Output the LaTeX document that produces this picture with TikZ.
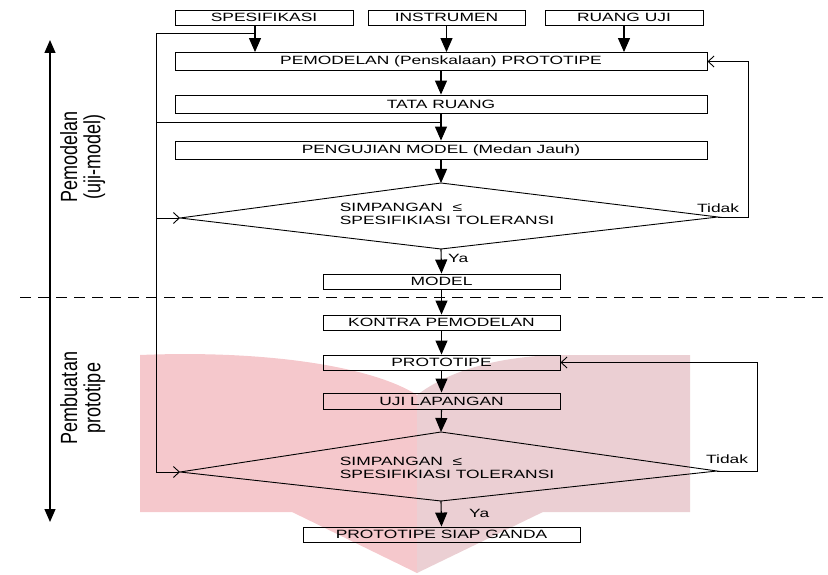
\documentclass[tikz,border=0pt]{standalone}
\usepackage{fontspec}
\setmainfont{Liberation Sans}
\usetikzlibrary{arrows.meta}
\newcommand\hs[1]{\scalebox{1.45}[1]{#1}}
\definecolor{pinkL}{RGB}{245,200,204}
\definecolor{pinkR}{RGB}{235,207,211}
\begin{document}
\begin{tikzpicture}[x=1pt,y=-1pt,
  bx/.style={draw, line width=0.9pt, inner sep=0pt, font=\fontsize{12}{13.5}\selectfont},
  txt/.style={inner sep=0pt, font=\fontsize{12}{13.5}\selectfont},
  flow/.style={line width=1.1pt, -{Triangle[length=14pt,width=12pt]}},
  ret/.style={line width=0.9pt, -{Straight Barb[length=6pt,width=11pt]}},
  ln/.style={line width=0.95pt},
  dia/.style={line width=0.9pt}]
\useasboundingbox (0,0) rectangle (828,575);
% watermark
\fill[pinkL] (140,355) .. controls (260,350) and (370,365) .. (417,395) -- (417,512) -- (140,512) -- cycle;
\fill[pinkR] (417,395) .. controls (450,370) and (500,356) .. (560,355) -- (690,355) -- (690,512) -- (417,512) -- cycle;
\fill[pinkL] (290,511) -- (417,573) -- (417,511) -- cycle;
\fill[pinkR] (417,511) -- (417,573) -- (545,511) -- cycle;
% top boxes
\node[bx, minimum width=178pt, minimum height=15pt] (spes) at (264,17.5) {\hs{SPESIFIKASI}};
\node[bx, minimum width=157pt, minimum height=15pt] (inst) at (446.5,17.5) {\hs{INSTRUMEN}};
\node[bx, minimum width=158pt, minimum height=15pt] (ruang) at (624,17.5) {\hs{RUANG UJI}};
% wide boxes
\node[bx, minimum width=532pt, minimum height=18pt] (pem) at (441,61.5) {\hs{PEMODELAN (Penskalaan) PROTOTIPE}};
\node[bx, minimum width=532pt, minimum height=18pt] (tata) at (441,104) {\hs{TATA RUANG}};
\node[bx, minimum width=532pt, minimum height=18pt] (uji) at (441,150) {\hs{PENGUJIAN MODEL (Medan Jauh)}};
% diamond 1
\coordinate (d1t) at (441,183);
\coordinate (d1l) at (180,218);
\coordinate (d1r) at (718,217);
\coordinate (d1b) at (441,249);
\draw[dia] (d1t) -- (d1r) -- (d1b) -- (d1l) -- cycle;
\node[txt] (d1txt) at (447,215.5) {\hs{\begin{tabular}{@{}l@{}}SIMPANGAN~~≤\\SPESIFIKIASI TOLERANSI\end{tabular}}};
% lower boxes
\node[bx, minimum width=237pt, minimum height=15pt] (model) at (441.5,281.5) {\hs{MODEL}};
\node[bx, minimum width=237pt, minimum height=15pt] (kontra) at (441.5,322.5) {\hs{KONTRA PEMODELAN}};
\node[bx, minimum width=237pt, minimum height=15pt] (proto) at (441.5,362.5) {\hs{PROTOTIPE}};
\node[bx, minimum width=237pt, minimum height=16pt] (lap) at (441.5,401) {\hs{UJI LAPANGAN}};
% diamond 2
\coordinate (d2t) at (441,432);
\coordinate (d2l) at (180,472);
\coordinate (d2r) at (717,471);
\coordinate (d2b) at (441,501);
\draw[dia] (d2t) -- (d2r) -- (d2b) -- (d2l) -- cycle;
\node[txt] (d2txt) at (447,469.5) {\hs{\begin{tabular}{@{}l@{}}SIMPANGAN~~≤\\SPESIFIKIASI TOLERANSI\end{tabular}}};
\node[bx, minimum width=277pt, minimum height=15pt] (psg) at (441.5,534.5) {\hs{PROTOTIPE SIAP GANDA}};
% labels
\node[txt, anchor=west] (ya1) at (448,258) {\hs{Ya}};
\node[txt, anchor=west] (ya2) at (469,513) {\hs{Ya}};
\node[txt, anchor=base west] (td1) at (697,213) {\hs{Tidak}};
\node[txt, anchor=base west] (td2) at (706,463) {\hs{Tidak}};
% flow arrows
\draw[flow] ([xshift=-9pt]spes.south) -- ([xshift=-9pt]spes.south |- pem.north);
\draw[flow] (inst.south) -- (inst.south |- pem.north);
\draw[flow] (ruang.south) -- (ruang.south |- pem.north);
\draw[flow] (pem.south) -- (tata.north);
\draw[flow] (tata.south) -- (uji.north);
\draw[flow] (uji.south) -- (d1t);
\draw[flow] (d1b) -- (model.north);
\draw[flow] (model.south) -- (kontra.north);
\draw[flow] (kontra.south) -- (proto.north);
\draw[flow] (proto.south) -- (lap.north);
\draw[flow] (lap.south) -- (d2t);
\draw[flow] (d2b) -- (psg.north);
% left feedback line
\coordinate (sb) at (255,33);
\coordinate (Ltop) at (156,33);
\coordinate (Lbot) at (156,472);
\coordinate (jL) at (156,122);
\draw[ln] (sb) -- (Ltop) -- (Lbot);
\draw[ret] (Lbot) -- (d2l);
\draw[ret] (Ltop |- d1l) -- (d1l);
\draw[ln] (jL) -- (jL -| tata.south);
% right return loops
\draw[ret] (d1r) -- ++(30,0) |- (pem.east);
\draw[ret] (d2r) -- ++(40,0) |- (proto.east);
% dashed divider
\coordinate (ds1) at (20,297);
\coordinate (ds2) at (828,297);
\draw[line width=0.9pt, dash pattern=on 11pt off 7pt] (ds1) -- (ds2);
% side arrow
\coordinate (sa1) at (50,40);
\coordinate (sa2) at (50,522);
\draw[line width=1.2pt, {Triangle[length=13pt,width=11pt]}-{Triangle[length=13pt,width=11pt]}] (sa1) -- (sa2);
\node[rotate=90, inner sep=0pt] (lab1) at (83.5,157) {\scalebox{1}[1.3]{\fontsize{18}{16.5}\selectfont\begin{tabular}{@{}c@{}}Pemodelan\\(uji-model)\end{tabular}}};
\node[rotate=90, inner sep=0pt] (lab2) at (83.5,398) {\scalebox{1}[1.3]{\fontsize{18}{16.5}\selectfont\begin{tabular}{@{}c@{}}Pembuatan\\prototipe\end{tabular}}};
\end{tikzpicture}
\end{document}
